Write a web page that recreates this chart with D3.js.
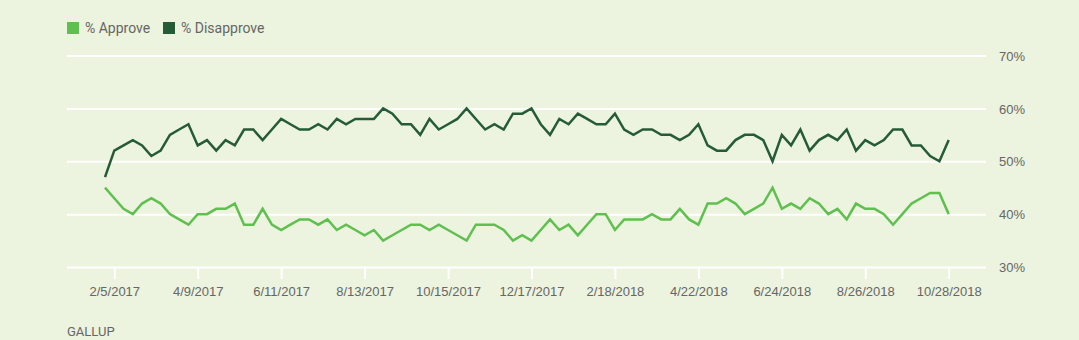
<!DOCTYPE html>
<html>
<head>
<meta charset="utf-8">
<script src="https://cdn.jsdelivr.net/npm/d3@7"></script>
<style>
  html, body { margin: 0; padding: 0; background: #ecf3de; }
  svg { display: block; font-family: Roboto, "Noto Sans", sans-serif; }
</style>
</head>
<body>
<svg id="chart" width="1079" height="340"></svg>
<script>
const approve = [45,43,41,40,42,43,42,40,39,38,40,40,41,41,42,38,38,41,38,37,38,39,39,38,39,37,38,37,36,37,35,36,37,38,38,37,38,37,36,35,38,38,38,37,35,36,35,37,39,37,38,36,38,40,40,37,39,39,39,40,39,39,41,39,38,42,42,43,42,40,41,42,45,41,42,41,43,42,40,41,39,42,41,41,40,38,40,42,43,44,44,40];
const disapprove = [47,52,53,54,53,51,52,55,56,57,53,54,52,54,53,56,56,54,56,58,57,56,56,57,56,58,57,58,58,58,60,59,57,57,55,58,56,57,58,60,58,56,57,56,59,59,60,57,55,58,57,59,58,57,57,59,56,55,56,56,55,55,54,55,57,53,52,52,54,55,55,54,50,55,53,56,52,54,55,54,56,52,54,53,54,56,56,53,53,51,50,54];
const firstWeek = "1/29/2017";
const tickLabels = ["2/5/2017","4/9/2017","6/11/2017","8/13/2017","10/15/2017","12/17/2017","2/18/2018","4/22/2018","6/24/2018","8/26/2018","10/28/2018"];
const yTicks = [30,40,50,60,70];
const seriesNames = ["% Approve","% Disapprove"];
const seriesColors = ["#5fc04f","#255c37"];

const parse = d3.timeParse("%m/%d/%Y");
const start = parse(firstWeek);
const dates = approve.map((_, i) => d3.timeDay.offset(start, 7 * i));

const svg = d3.select("#chart");
const gridLeft = 67, gridRight = 986;

const x = d3.scaleTime().domain([dates[0], dates[dates.length - 1]]).range([105, 948.7]);
const y = d3.scaleLinear().domain([30, 70]).range([267, 55.5]);

// gridlines + right labels
const yAxis = d3.axisRight(y)
  .tickValues(yTicks)
  .tickSize(-(gridRight - gridLeft))
  .tickPadding(13)
  .tickFormat(d => d + "%");
const gy = svg.append("g").attr("transform", `translate(${gridRight},0)`).call(yAxis);
gy.select(".domain").remove();
gy.selectAll(".tick line").attr("stroke", "#ffffff").attr("stroke-width", 2);
gy.selectAll(".tick text").attr("fill", "#666666").attr("font-size", 13).attr("dy", "0.36em");

// x axis ticks
const xAxis = d3.axisBottom(x)
  .tickValues(tickLabels.map(parse))
  .tickSize(12)
  .tickPadding(8)
  .tickFormat((d, i) => tickLabels[i]);
const gx = svg.append("g").attr("transform", `translate(0,${y(30)})`).call(xAxis);
gx.select(".domain").remove();
gx.selectAll(".tick line").attr("stroke", "#ffffff").attr("stroke-width", 2);
gx.selectAll(".tick text").attr("fill", "#666666").attr("font-size", 13);

// lines
const line = d3.line().x((d, i) => x(dates[i])).y(d => y(d));
[approve, disapprove].forEach((vals, k) => {
  svg.append("path")
    .datum(vals)
    .attr("fill", "none")
    .attr("stroke", seriesColors[k])
    .attr("stroke-width", 2.5)
    .attr("stroke-linejoin", "miter")
    .attr("d", line);
});

// legend
const legendX = [67, 163];
seriesNames.forEach((name, k) => {
  svg.append("rect").attr("x", legendX[k]).attr("y", 22).attr("width", 12).attr("height", 12).attr("fill", seriesColors[k]);
  svg.append("text").attr("x", legendX[k] + 18).attr("y", 32.5)
    .attr("font-size", 14).attr("fill", "#666666").text(name);
});

// source
svg.append("text").attr("x", 67).attr("y", 336).attr("font-size", 13).attr("fill", "#666666").text("GALLUP");
</script>
</body>
</html>
